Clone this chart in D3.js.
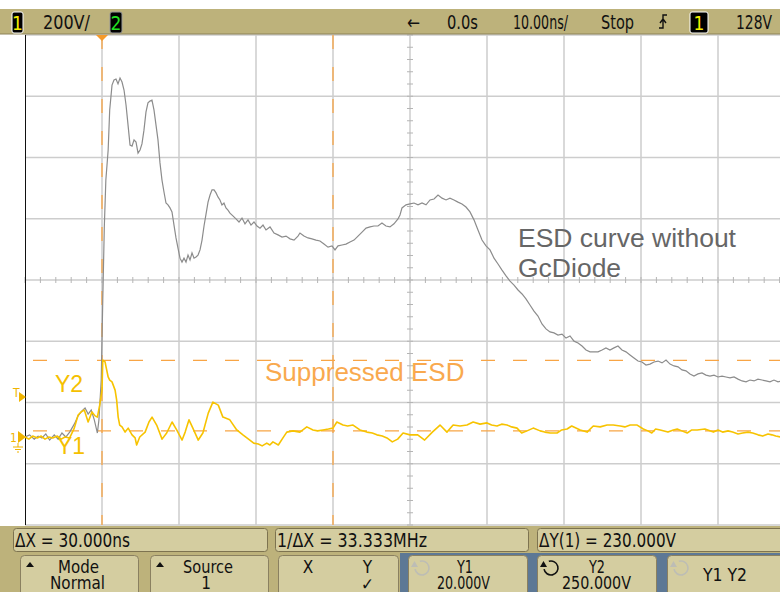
<!DOCTYPE html>
<html>
<head>
<meta charset="utf-8">
<script src="https://cdn.jsdelivr.net/npm/d3@7/dist/d3.min.js"></script>
<style>
body{margin:0;background:#fff;}
svg{display:block;}
</style>
</head>
<body>
<div id="scope_wrap"></div>
<script>
// 灰色曲线: ESD curve without GcDiode  [时间 ns, 电压 V]
var grayTrace = [[-50.0,0],[-49.4,7],[-48.8,-7],[-48.3,3],[-47.8,-3],[-47.3,10],[-46.8,-10],[-46.2,7],[-45.7,-7],[-45.2,13],[-44.7,0],[-44.2,16],[-43.6,42],[-43.1,69],[-42.6,85],[-42.2,95],[-41.8,75],[-41.4,88],[-41.0,56],[-40.6,13],[-40.4,56],[-40.1,186],[-39.9,447],[-39.7,686],[-39.5,839],[-39.2,937],[-39.0,1068],[-38.7,1149],[-38.44,1166],[-38.18,1169],[-37.92,1153],[-37.66,1172],[-37.40,1159],[-37.14,1133],[-36.88,1084],[-36.62,1019],[-36.36,953],[-36.10,950],[-35.84,970],[-35.58,963],[-35.32,927],[-35.06,937],[-34.81,957],[-34.55,1002],[-34.29,1061],[-34.03,1091],[-33.77,1097],[-33.51,1100],[-33.25,1068],[-32.99,1019],[-32.73,970],[-32.47,895],[-32.21,839],[-31.95,800],[-31.69,764],[-31.43,758],[-31.17,748],[-30.91,735],[-30.65,692],[-30.39,650],[-30.13,617],[-29.87,584],[-29.61,571],[-29.35,584],[-29.09,571],[-28.83,594],[-28.57,578],[-28.31,601],[-28.05,584],[-27.79,588],[-27.53,594],[-27.27,611],[-27.01,643],[-26.75,689],[-26.49,728],[-26.23,767],[-25.97,790],[-25.71,807],[-25.45,807],[-25.19,797],[-24.94,784],[-24.68,774],[-24.42,758],[-24.16,764],[-23.90,748],[-23.64,741],[-23.38,731],[-23.0,722],[-22.60,712],[-22.21,702],[-21.82,715],[-21.43,696],[-21.04,709],[-20.65,692],[-20.26,702],[-19.87,689],[-19.48,682],[-19.09,692],[-18.70,676],[-18.18,686],[-17.66,666],[-17.14,660],[-16.62,653],[-16.10,656],[-15.58,647],[-15.06,643],[-14.55,656],[-14.29,666],[-13.77,656],[-13.25,650],[-12.73,647],[-12.21,643],[-11.69,640],[-11.17,630],[-10.65,620],[-10.13,624],[-9.74,611],[-9.35,624],[-8.83,627],[-8.31,630],[-7.79,637],[-7.27,643],[-6.75,656],[-6.23,669],[-5.71,682],[-5.19,686],[-4.68,689],[-4.16,689],[-3.64,699],[-3.12,689],[-2.60,686],[-2.08,696],[-1.56,712],[-1.30,725],[-1.04,748],[-0.52,758],[0,761],[0.52,764],[1.04,758],[1.56,764],[2.08,758],[2.60,774],[3.12,777],[3.64,790],[4.16,780],[4.68,774],[5.19,780],[5.71,774],[6.23,767],[6.75,761],[7.27,751],[7.79,735],[8.31,709],[8.83,676],[9.35,643],[9.87,624],[10.39,611],[10.91,584],[11.43,565],[11.95,545],[12.47,526],[12.99,509],[13.51,496],[14.03,480],[14.55,467],[15.06,451],[15.58,431],[16.10,411],[16.62,395],[17.14,369],[17.66,353],[18.18,343],[18.70,340],[19.22,333],[19.74,336],[20.26,323],[20.78,330],[21.30,313],[21.82,307],[22.34,297],[22.86,284],[23.38,278],[23.90,278],[24.42,278],[24.94,284],[25.45,291],[25.97,284],[26.49,291],[27.01,297],[27.53,284],[28.05,278],[28.57,268],[29.09,258],[29.61,248],[30.13,245],[30.65,235],[31.17,238],[31.69,245],[32.21,248],[32.73,242],[33.25,251],[33.77,238],[34.29,232],[34.81,229],[35.32,219],[35.84,216],[36.36,206],[36.88,199],[37.40,206],[37.92,209],[38.44,202],[38.96,199],[39.48,202],[40.0,196],[40.52,199],[41.04,196],[41.56,193],[42.08,196],[42.60,189],[43.12,183],[43.64,180],[44.16,186],[44.68,183],[45.19,189],[45.71,186],[46.23,183],[46.75,180],[47.27,186],[47.79,180],[48.31,183]];

// 黄色曲线: Suppressed ESD  [时间 ns, 电压 V]
var yellowTrace = [[-50.0,0],[-49.5,-7],[-49.0,3],[-48.4,-3],[-47.9,3],[-47.4,-7],[-46.9,0],[-46.4,-3],[-45.8,3],[-45.3,-7],[-44.8,0],[-44.2,-3],[-43.6,29],[-43.1,72],[-42.7,82],[-42.3,88],[-41.8,49],[-41.3,82],[-40.9,69],[-40.6,65],[-40.3,104],[-40.0,153],[-39.9,251],[-39.6,245],[-39.5,232],[-39.2,196],[-39.0,186],[-38.7,180],[-38.3,153],[-38.1,121],[-37.9,65],[-37.7,39],[-37.4,33],[-37.0,16],[-36.6,29],[-36.1,7],[-35.7,-3],[-35.5,-26],[-35.1,0],[-34.4,16],[-33.9,49],[-33.5,65],[-32.9,39],[-32.2,-7],[-31.6,13],[-30.9,49],[-30.3,23],[-29.6,-10],[-29.2,16],[-28.7,56],[-28.2,29],[-27.5,-10],[-26.9,13],[-26.2,78],[-25.6,114],[-24.9,104],[-24.3,65],[-23.4,56],[-22.5,23],[-21.7,7],[-20.8,-10],[-20.3,-20],[-19.7,-23],[-19.2,-29],[-18.6,-20],[-18.2,-26],[-17.8,-16],[-17.1,-26],[-16.5,-3],[-16.0,16],[-15.2,20],[-14.3,16],[-13.4,33],[-12.6,23],[-12.0,20],[-11.3,23],[-10.6,26],[-10.0,29],[-9.5,49],[-8.7,39],[-8.1,36],[-7.4,39],[-6.5,23],[-5.6,16],[-4.9,13],[-4.3,7],[-3.6,3],[-3.0,-3],[-2.3,-16],[-1.6,-7],[-0.9,13],[0,7],[1.0,7],[1.9,-10],[2.9,16],[3.9,39],[4.8,16],[5.6,39],[6.5,36],[7.4,39],[8.2,49],[9.1,42],[10.0,46],[10.6,39],[11.3,36],[11.9,42],[12.6,39],[13.2,33],[13.9,29],[14.5,13],[15.2,20],[16.0,29],[16.9,20],[17.5,16],[18.2,13],[19.1,13],[19.7,23],[20.4,26],[21.0,36],[22.1,23],[23.0,16],[23.8,36],[24.7,33],[25.6,39],[26.4,39],[27.3,36],[27.9,33],[28.6,39],[29.5,39],[30.3,26],[30.9,20],[31.4,13],[31.9,26],[32.5,23],[33.5,16],[34.2,23],[34.7,26],[35.3,20],[36.0,13],[36.6,23],[37.3,23],[38.3,26],[39.4,16],[40.0,23],[40.6,16],[41.3,20],[41.9,16],[42.6,10],[43.2,13],[43.9,16],[44.5,13],[45.2,7],[45.8,3],[46.5,10],[47.0,7],[47.5,3],[48.1,0]];

// 光标 (ns / V)
var cursorTimes = [-40, -10];
var cursorVolts = [20, 250];
// 屏幕设置: 10ns/div, 200V/div
var timeDomain = [-50, 50];
var voltDomain = [-287.35, 1312.65];

// 文字
var topBarTexts = ['200V/', '\u2190', '0.0s', '10.00ns/', 'Stop', '128V'];
var statusTexts = ['\u0394X = 30.000ns', '1/\u0394X = 33.333MHz', '\u0394Y(1) = 230.000V'];
var softkeyTop = ['Mode', 'Source', '', 'Y1', 'Y2', ''];
var softkeyBottom = ['Normal', '1', '', '20.000V', '250.000V', ''];

var scopeFont = '"Liberation Sans Narrow", "DejaVu Sans Condensed", "Liberation Sans", sans-serif';
var plainFont = '"Liberation Sans", Arial, sans-serif';

var W = 780, H = 592;
var gridLeft = 25, gridRight = 795, gridTop = 35, gridBottom = 525;

var svg = d3.select('#scope_wrap').append('svg')
	.attr('width', W)
	.attr('height', H)
	.style('font-family', scopeFont);

var x = d3.scaleLinear().domain(timeDomain).range([gridLeft, gridRight]);
var y = d3.scaleLinear().domain(voltDomain).range([gridBottom, gridTop]);

// 固定宽度文字
var addText = function(parent, tx, ty, str, size, width, anchor){
	var t = parent.append('text').attr('x', tx).attr('y', ty)
		.style('font-size', size + 'px').attr('fill', '#111').text(str);
	if(anchor){ t.attr('text-anchor', anchor); }
	if(width){ t.attr('textLength', width).attr('lengthAdjust', 'spacingAndGlyphs'); }
	return t;
};

svg.append('rect').attr('width', W).attr('height', H).attr('fill', '#fff');

// 网格
var grid = svg.append('g').attr('id', 'grid');
var xDivs = d3.range(timeDomain[0], timeDomain[1] + 0.1, 10);
var yDivs = d3.range(0, 9).map(function(k){ return voltDomain[0] + 200 * k; });
grid.selectAll('.vline').data(xDivs.slice(1)).enter().append('line')
	.attr('x1', function(d){ return x(d); }).attr('x2', function(d){ return x(d); })
	.attr('y1', gridTop).attr('y2', gridBottom)
	.attr('stroke', '#cdcdcd').attr('stroke-width', 1.5);
grid.selectAll('.hline').data(yDivs).enter().append('line')
	.attr('x1', gridLeft).attr('x2', W)
	.attr('y1', function(d){ return y(d); }).attr('y2', function(d){ return y(d); })
	.attr('stroke', '#cdcdcd').attr('stroke-width', 1.5);
// 中心刻度
var midV = voltDomain[0] + 800;
grid.selectAll('.xtick').data(d3.range(timeDomain[0], timeDomain[1], 2)).enter().append('line')
	.attr('x1', function(d){ return x(d); }).attr('x2', function(d){ return x(d); })
	.attr('y1', y(midV) - 3).attr('y2', y(midV) + 3)
	.attr('stroke', '#b5b5b5').attr('stroke-width', 1);
grid.selectAll('.ytick').data(d3.range(0, 41).map(function(k){ return voltDomain[0] + 40 * k; })).enter().append('line')
	.attr('x1', x(0) - 3).attr('x2', x(0) + 3)
	.attr('y1', function(d){ return y(d); }).attr('y2', function(d){ return y(d); })
	.attr('stroke', '#b5b5b5').attr('stroke-width', 1);
grid.append('line')
	.attr('x1', gridLeft + 0.5).attr('x2', gridLeft + 0.5)
	.attr('y1', gridTop).attr('y2', gridBottom)
	.attr('stroke', '#111').attr('stroke-width', 1);

// 光标线
var cursorColor = '#f8a545';
var cur = svg.append('g').attr('id', 'cursors');
cur.selectAll('.cx').data(cursorTimes).enter().append('line')
	.attr('x1', function(d){ return x(d); }).attr('x2', function(d){ return x(d); })
	.attr('y1', gridTop).attr('y2', gridBottom)
	.attr('stroke', cursorColor).attr('stroke-width', 1.3)
	.attr('stroke-dasharray', '14 18');
cur.selectAll('.cy').data(cursorVolts).enter().append('line')
	.attr('x1', gridLeft + 8).attr('x2', W)
	.attr('y1', function(d){ return y(d); }).attr('y2', function(d){ return y(d); })
	.attr('stroke', cursorColor).attr('stroke-width', 1.3)
	.attr('stroke-dasharray', '14 18');

// 曲线
svg.append('clipPath').attr('id', 'plot_clip')
	.append('rect').attr('x', gridLeft).attr('y', gridTop)
	.attr('width', W - gridLeft).attr('height', gridBottom - gridTop);
var line = d3.line()
	.x(function(d){ return x(d[0]); })
	.y(function(d){ return y(d[1]); });
var traces = svg.append('g').attr('clip-path', 'url(#plot_clip)');
traces.append('path').datum(grayTrace)
	.attr('d', line).attr('fill', 'none')
	.attr('stroke', '#8c8c8c').attr('stroke-width', 1.2);
traces.append('path').datum(yellowTrace)
	.attr('d', line).attr('fill', 'none')
	.attr('stroke', '#f7c300').attr('stroke-width', 1.6)
	.attr('stroke-linejoin', 'round');

// 触发位置标记
svg.append('path')
	.attr('d', 'M' + (x(cursorTimes[0]) - 6) + ',' + gridTop + 'h12l-6,6z')
	.attr('fill', '#f59a2a');

// 左侧标记 T / 1 / 地
var mk = svg.append('g').attr('fill', '#f0b400').attr('stroke', 'none');
mk.append('text').attr('x', 13).attr('y', 397).style('font-size', '12px').text('T');
mk.append('path').attr('d', 'M19,392 l7,5 l-7,5z');
mk.append('text').attr('x', 10).attr('y', 442).style('font-size', '12px').text('1');
mk.append('path').attr('d', 'M18,431 l8,6 l-8,6z');
mk.append('path').attr('d', 'M18,443 v4 M13,447 h10 M15,449.5 h6 M17,452 h2')
	.attr('stroke', '#f0b400').attr('stroke-width', 1).attr('fill', 'none');

// 标签
svg.append('text').attr('x', 55).attr('y', 392)
	.style('font-family', plainFont).style('font-size', '23px')
	.attr('fill', '#f5c000').text('Y2');
svg.append('text').attr('x', 57).attr('y', 454)
	.style('font-family', plainFont).style('font-size', '23px')
	.attr('fill', '#f5c000').text('Y1');
svg.append('text').attr('x', 265).attr('y', 381)
	.style('font-family', plainFont).style('font-size', '26px')
	.attr('fill', '#f9a94e').text('Suppressed ESD');
svg.append('text').attr('x', 518).attr('y', 247)
	.style('font-family', plainFont).style('font-size', '26.5px')
	.attr('fill', '#666').text('ESD curve without');
svg.append('text').attr('x', 518).attr('y', 277)
	.style('font-family', plainFont).style('font-size', '26.5px')
	.attr('fill', '#666').text('GcDiode');

// 顶部状态栏
var khaki = '#bdb27b';
var topBar = svg.append('g').attr('id', 'top_bar');
topBar.append('rect').attr('x', 0).attr('y', 9).attr('width', W).attr('height', 25).attr('fill', khaki);
topBar.append('line').attr('x1', 0).attr('x2', W).attr('y1', 34).attr('y2', 34).attr('stroke', '#8c8258');
var chBox = function(bx, bw, label, color, border){
	topBar.append('rect').attr('x', bx).attr('y', 12).attr('width', bw).attr('height', 21)
		.attr('rx', 2).attr('fill', '#000').attr('stroke', border).attr('stroke-width', 1);
	addText(topBar, bx + bw / 2, 30, label, 19, 0, 'middle').attr('fill', color);
};
chBox(12, 11, '1', '#f4f000', '#fff');
chBox(110, 12, '2', '#22e022', '#999');
chBox(690, 18, '1', '#f4f000', '#fff');
var topX = [43, 407, 447, 513, 601, 736];
var topW = [47, 13, 31, 55, 33, 36];
topBarTexts.forEach(function(d, i){
	addText(topBar, topX[i], 29, d, 19, topW[i]);
});
// 触发沿符号
topBar.append('path').attr('d', 'M659,28 h4 v-13 h4 M660,23 l3,-4 l3,4')
	.attr('stroke', '#111').attr('stroke-width', 1.4).attr('fill', 'none');

// 底部测量栏
var bottom = svg.append('g').attr('id', 'bottom_bar');
bottom.append('rect').attr('x', 0).attr('y', 526).attr('width', W).attr('height', H - 526).attr('fill', khaki);
bottom.append('rect').attr('x', 400).attr('y', 553).attr('width', W - 400).attr('height', H - 553).attr('fill', '#5d7895');
var statusBoxes = [[13, 267], [275, 528], [537, 800]];
var statusW = [115, 150, 137];
statusBoxes.forEach(function(b, i){
	bottom.append('rect').attr('x', b[0] + 0.5).attr('y', 528.5).attr('width', b[1] - b[0]).attr('height', 23)
		.attr('rx', 3).attr('fill', '#d4cda0').attr('stroke', '#7d7350').attr('stroke-width', 1);
	addText(bottom, b[0] + 2, 547, statusTexts[i], 19, statusW[i]);
});
var keys = [[20, 138], [150, 268], [278, 398], [408, 527], [537, 656], [667, 800]];
var keyTopX = [78.5, 208, 0, 465, 597, 0];
var keyTopW = [41, 50, 0, 16, 16, 0];
var keyBotX = [77.5, 206, 0, 463.5, 596.5, 0];
var keyBotW = [55, 0, 0, 53, 69, 0];
keys.forEach(function(k, i){
	bottom.append('rect').attr('x', k[0] + 0.5).attr('y', 555.5).attr('width', k[1] - k[0]).attr('height', 45)
		.attr('rx', 4).attr('fill', '#d4cda0').attr('stroke', '#8a8060').attr('stroke-width', 1);
	if(softkeyTop[i]){
		addText(bottom, keyTopX[i], 573, softkeyTop[i], 17, keyTopW[i], 'middle');
		addText(bottom, keyBotX[i], 589, softkeyBottom[i], 17, keyBotW[i], 'middle');
	}
	if(i < 2){
		bottom.append('path').attr('d', 'M' + (k[0] + 6) + ',567 l4,-5 l4,5z').attr('fill', '#111');
	}
	if(i >= 3){
		var ic = i === 4 ? '#111' : '#bdbdb5';
		var icx = k[0] + 14, icy = 568, r = 7;
		var p = d3.path();
		p.arc(icx, icy, r, -Math.PI * 0.6, Math.PI * 0.95);
		bottom.append('path').attr('d', p.toString())
			.attr('fill', 'none').attr('stroke', ic).attr('stroke-width', 1.6);
		bottom.append('path')
			.attr('d', 'M' + (icx - 11) + ',' + (icy - 1) + ' l7,0 l-3.5,-6z')
			.attr('fill', ic);
	}
});
// X / Y 键
addText(bottom, 308, 573, 'X', 17, 0, 'middle');
addText(bottom, 367.5, 573, 'Y', 17, 0, 'middle');
addText(bottom, 367.5, 590, '\u2713', 17, 0, 'middle');
addText(bottom, 725, 581, 'Y1 Y2', 17, 44, 'middle');
</script>
</body>
</html>
